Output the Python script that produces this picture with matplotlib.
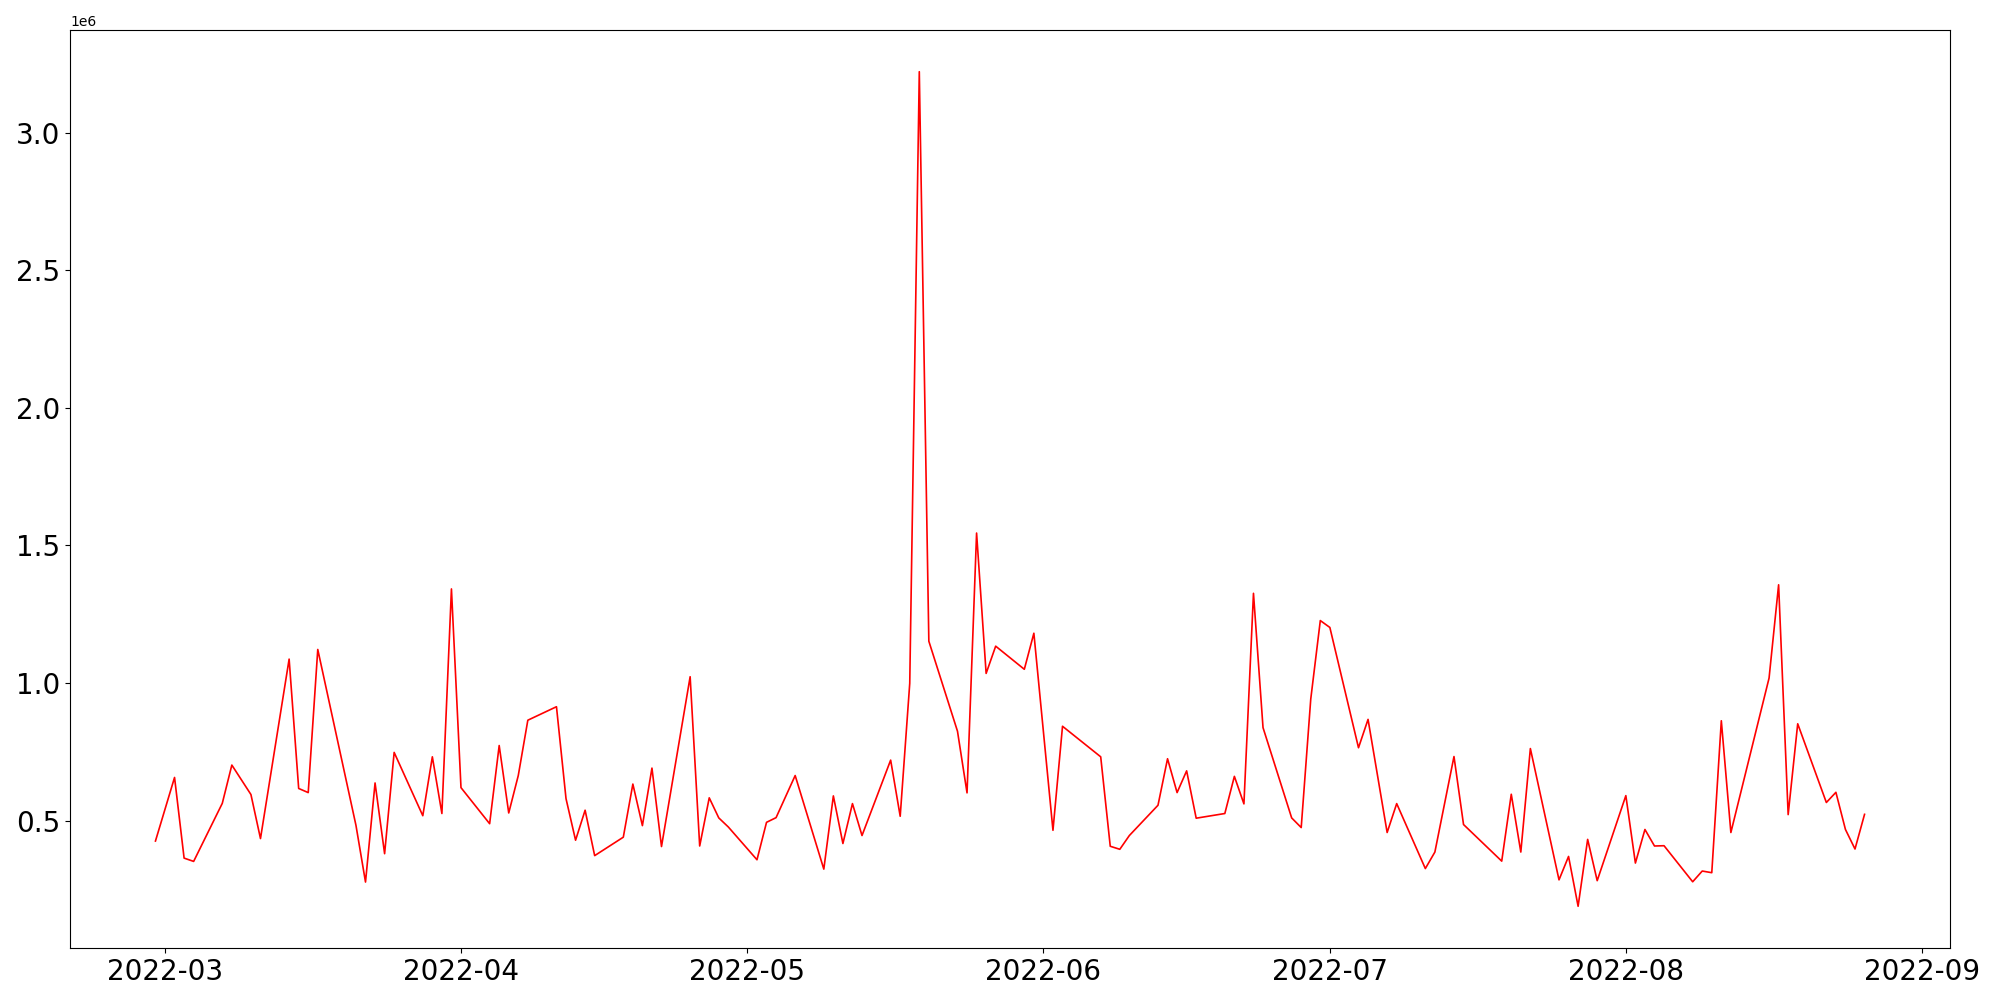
import matplotlib
matplotlib.use("Agg")
import matplotlib.pyplot as plt
import pandas as pd

# daily values
dates = [
    "2022-02-28", "2022-03-02", "2022-03-03", "2022-03-04", "2022-03-07", "2022-03-08",
    "2022-03-10", "2022-03-11", "2022-03-14", "2022-03-15", "2022-03-16", "2022-03-17",
    "2022-03-21", "2022-03-22", "2022-03-23", "2022-03-24", "2022-03-25", "2022-03-28",
    "2022-03-29", "2022-03-30", "2022-03-31", "2022-04-01", "2022-04-04", "2022-04-05",
    "2022-04-06", "2022-04-07", "2022-04-08", "2022-04-11", "2022-04-12", "2022-04-13",
    "2022-04-14", "2022-04-15", "2022-04-18", "2022-04-19", "2022-04-20", "2022-04-21",
    "2022-04-22", "2022-04-25", "2022-04-26", "2022-04-27", "2022-04-28", "2022-04-29",
    "2022-05-02", "2022-05-03", "2022-05-04", "2022-05-06", "2022-05-09", "2022-05-10",
    "2022-05-11", "2022-05-12", "2022-05-13", "2022-05-16", "2022-05-17", "2022-05-18",
    "2022-05-19", "2022-05-20", "2022-05-23", "2022-05-24", "2022-05-25", "2022-05-26",
    "2022-05-27", "2022-05-30", "2022-05-31", "2022-06-02", "2022-06-03", "2022-06-07",
    "2022-06-08", "2022-06-09", "2022-06-10", "2022-06-13", "2022-06-14", "2022-06-15",
    "2022-06-16", "2022-06-17", "2022-06-20", "2022-06-21", "2022-06-22", "2022-06-23",
    "2022-06-24", "2022-06-27", "2022-06-28", "2022-06-29", "2022-06-30", "2022-07-01",
    "2022-07-04", "2022-07-05", "2022-07-07", "2022-07-08", "2022-07-11", "2022-07-12",
    "2022-07-14", "2022-07-15", "2022-07-19", "2022-07-20", "2022-07-21", "2022-07-22",
    "2022-07-25", "2022-07-26", "2022-07-27", "2022-07-28", "2022-07-29", "2022-08-01",
    "2022-08-02", "2022-08-03", "2022-08-04", "2022-08-05", "2022-08-08", "2022-08-09",
    "2022-08-10", "2022-08-11", "2022-08-12", "2022-08-16", "2022-08-17", "2022-08-18",
    "2022-08-19", "2022-08-22", "2022-08-23", "2022-08-24", "2022-08-25", "2022-08-26",
]
values = [
    426000, 657000, 364000, 352000, 563000, 702000,
    595000, 435000, 1087000, 617000, 602000, 1122000,
    483000, 277000, 637000, 380000, 748000, 518000,
    732000, 526000, 1342000, 620000, 489000, 773000,
    528000, 664000, 865000, 914000, 580000, 429000,
    538000, 373000, 440000, 633000, 482000, 691000,
    406000, 1023000, 408000, 583000, 510000, 477000,
    358000, 494000, 511000, 664000, 324000, 590000,
    417000, 562000, 446000, 720000, 516000, 999000,
    3221000, 1152000, 825000, 601000, 1545000, 1035000,
    1134000, 1050000, 1181000, 465000, 843000, 732000,
    407000, 396000, 446000, 556000, 725000, 602000,
    681000, 509000, 526000, 661000, 561000, 1326000,
    838000, 510000, 475000, 942000, 1227000, 1202000,
    765000, 868000, 457000, 562000, 326000, 386000,
    733000, 486000, 353000, 596000, 386000, 762000,
    285000, 370000, 189000, 432000, 282000, 591000,
    346000, 468000, 408000, 409000, 278000, 317000,
    311000, 863000, 457000, 1018000, 1357000, 522000,
    852000, 566000, 603000, 468000, 397000, 523000,
]

x = pd.to_datetime(dates)

plt.figure(figsize=(20, 10), dpi=100)
plt.plot(x, values, color='red', linewidth=1.2)
plt.xticks(fontsize=20)
plt.yticks(fontsize=20)
plt.subplots_adjust(left=0.035, right=0.975, top=0.97, bottom=0.052)
plt.savefig('out.png')
